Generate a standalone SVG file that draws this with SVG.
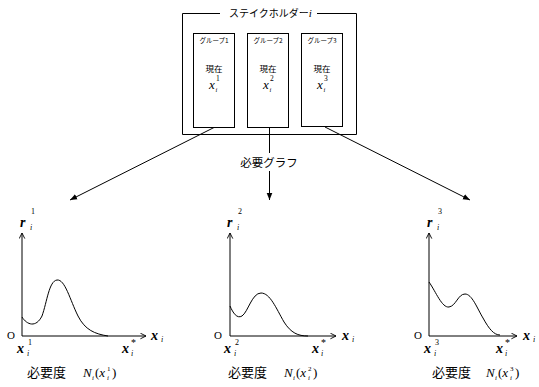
<svg xmlns="http://www.w3.org/2000/svg" width="539" height="387" viewBox="0 0 539 387">
<defs>
<style>
.ln{fill:none;stroke:#000;stroke-width:1}
.jp{font-family:'Noto Sans CJK JP','Noto Sans',sans-serif;fill:#000}
.m{font-family:'Liberation Serif','DejaVu Serif',serif;font-style:italic;fill:#000}
.mb{font-family:'Liberation Serif','DejaVu Serif',serif;font-style:italic;font-weight:bold;fill:#000}
.n{font-family:'Liberation Serif','DejaVu Serif',serif;fill:#000}
</style>
<marker id="ah" viewBox="0 0 10 10" refX="10" refY="5" markerWidth="7" markerHeight="7" orient="auto" markerUnits="userSpaceOnUse">
<path d="M0,1 L10,5 L0,9 Z" fill="#000"/>
</marker>
<marker id="ax" viewBox="0 0 10 10" refX="9" refY="5" markerWidth="7" markerHeight="7" orient="auto" markerUnits="userSpaceOnUse">
<path d="M1,1 L9,5 L1,9" fill="none" stroke="#000" stroke-width="1.3"/>
</marker>
</defs>
<rect width="539" height="387" fill="#fff"/>

<g id="stakeholder">
<path class="ln" d="M220,13.5 H182.5 V134.5 H356.5 V13.5 H317"/>
<text class="jp" x="229" y="17" font-size="10">ステイクホルダー<tspan class="m" font-size="11">i</tspan></text>
</g>

<g id="group1">
<rect class="ln" x="193.5" y="33.5" width="41" height="94"/>
<text class="jp" x="214" y="43" font-size="6.5" text-anchor="middle">グループ1</text>
<text class="jp" x="214" y="72" font-size="8.5" text-anchor="middle">現在</text>
<text class="m" x="209" y="89" font-size="13">x</text>
<text class="m" x="215.5" y="92" font-size="6.5">i</text>
<text class="n" x="216" y="81" font-size="7.5">1</text>
</g>
<g id="group2">
<rect class="ln" x="247.5" y="33.5" width="41" height="94"/>
<text class="jp" x="268" y="43" font-size="6.5" text-anchor="middle">グループ2</text>
<text class="jp" x="268" y="72" font-size="8.5" text-anchor="middle">現在</text>
<text class="m" x="263" y="89" font-size="13">x</text>
<text class="m" x="269.5" y="92" font-size="6.5">i</text>
<text class="n" x="270" y="81" font-size="7.5">2</text>
</g>
<g id="group3">
<rect class="ln" x="301.5" y="33.5" width="41" height="93"/>
<text class="jp" x="322" y="43" font-size="6.5" text-anchor="middle">グループ3</text>
<text class="jp" x="322" y="72" font-size="8.5" text-anchor="middle">現在</text>
<text class="m" x="317" y="89" font-size="13">x</text>
<text class="m" x="323.5" y="92" font-size="6.5">i</text>
<text class="n" x="324" y="81" font-size="7.5">3</text>
</g>

<g id="connectors">
<line class="ln" x1="214" y1="127.5" x2="70" y2="200" marker-end="url(#ah)"/>
<line class="ln" x1="269.5" y1="127.5" x2="269.5" y2="153"/>
<line class="ln" x1="269.5" y1="171" x2="269.5" y2="200" marker-end="url(#ah)"/>
<line class="ln" x1="325" y1="127" x2="470" y2="200" marker-end="url(#ah)"/>
<text class="jp" x="269" y="167" font-size="11.5" text-anchor="middle">必要グラフ</text>
</g>

<g id="graph1">
<line class="ln" x1="22" y1="336" x2="22" y2="233" marker-end="url(#ax)"/>
<line class="ln" x1="22" y1="336" x2="146" y2="336" marker-end="url(#ax)"/>
<path class="ln" d="M22,317 C27,325 36,328 42,316 C47,302 49,281 57,280 C65,279 70,300 78,316 C85,330 95,334 108,336"/>
<text class="mb" x="20" y="227" font-size="14">r</text>
<text class="n" x="31" y="214" font-size="8">1</text>
<text class="m" x="30" y="230" font-size="8">i</text>
<text class="n" x="7" y="339" font-size="11">O</text>
<text class="mb" x="151" y="340" font-size="14">x</text>
<text class="m" x="161" y="342" font-size="8">i</text>
<text class="mb" x="17" y="353" font-size="14">x</text>
<text class="n" x="28" y="345" font-size="8">1</text>
<text class="m" x="27" y="356" font-size="8">i</text>
<text class="mb" x="122" y="353" font-size="14">x</text>
<text class="n" x="131" y="346" font-size="10">*</text>
<text class="m" x="131" y="356" font-size="8">i</text>
<text class="jp" x="27" y="377" font-size="13">必要度</text>
<text class="m" x="83" y="377" font-size="13">N</text>
<text class="m" x="92" y="380" font-size="7">i</text>
<text class="n" x="95" y="377" font-size="13">(<tspan class="m">x</tspan></text>
<text class="n" x="107" y="371" font-size="7">1</text>
<text class="m" x="107" y="380" font-size="7">i</text>
<text class="n" x="112" y="377" font-size="13">)</text>
</g>

<g id="graph2">
<line class="ln" x1="230" y1="336" x2="230" y2="233" marker-end="url(#ax)"/>
<line class="ln" x1="230" y1="336" x2="336" y2="336" marker-end="url(#ax)"/>
<path class="ln" d="M230,306 C233,313 237,319 242,316 C248,312 252,293 261,293 C270,293 276,308 284,322 C291,333 298,336 308,336"/>
<text class="mb" x="227" y="227" font-size="14">r</text>
<text class="n" x="238" y="214" font-size="8">2</text>
<text class="m" x="237" y="230" font-size="8">i</text>
<text class="n" x="214" y="339" font-size="11">O</text>
<text class="mb" x="342" y="340" font-size="14">x</text>
<text class="m" x="352" y="342" font-size="8">i</text>
<text class="mb" x="224" y="353" font-size="14">x</text>
<text class="n" x="235" y="345" font-size="8">2</text>
<text class="m" x="234" y="356" font-size="8">i</text>
<text class="mb" x="312" y="353" font-size="14">x</text>
<text class="n" x="321" y="346" font-size="10">*</text>
<text class="m" x="321" y="356" font-size="8">i</text>
<text class="jp" x="228" y="377" font-size="13">必要度</text>
<text class="m" x="284" y="377" font-size="13">N</text>
<text class="m" x="293" y="380" font-size="7">i</text>
<text class="n" x="296" y="377" font-size="13">(<tspan class="m">x</tspan></text>
<text class="n" x="308" y="371" font-size="7">2</text>
<text class="m" x="308" y="380" font-size="7">i</text>
<text class="n" x="313" y="377" font-size="13">)</text>
</g>

<g id="graph3">
<line class="ln" x1="429" y1="336" x2="429" y2="233" marker-end="url(#ax)"/>
<line class="ln" x1="429" y1="336" x2="517" y2="336" marker-end="url(#ax)"/>
<path class="ln" d="M429,282 C436,292 442,308 449,307 C456,306 458,294 465,294 C472,294 477,308 483,318 C489,329 494,335 500,335"/>
<text class="mb" x="427" y="227" font-size="14">r</text>
<text class="n" x="438" y="214" font-size="8">3</text>
<text class="m" x="437" y="230" font-size="8">i</text>
<text class="n" x="414" y="339" font-size="11">O</text>
<text class="mb" x="523" y="340" font-size="14">x</text>
<text class="m" x="533" y="342" font-size="8">i</text>
<text class="mb" x="424" y="353" font-size="14">x</text>
<text class="n" x="435" y="345" font-size="8">3</text>
<text class="m" x="434" y="356" font-size="8">i</text>
<text class="mb" x="496" y="353" font-size="14">x</text>
<text class="n" x="505" y="346" font-size="10">*</text>
<text class="m" x="505" y="356" font-size="8">i</text>
<text class="jp" x="432" y="377" font-size="13">必要度</text>
<text class="m" x="486" y="377" font-size="13">N</text>
<text class="m" x="495" y="380" font-size="7">i</text>
<text class="n" x="498" y="377" font-size="13">(<tspan class="m">x</tspan></text>
<text class="n" x="510" y="371" font-size="7">3</text>
<text class="m" x="510" y="380" font-size="7">i</text>
<text class="n" x="515" y="377" font-size="13">)</text>
</g>
</svg>
